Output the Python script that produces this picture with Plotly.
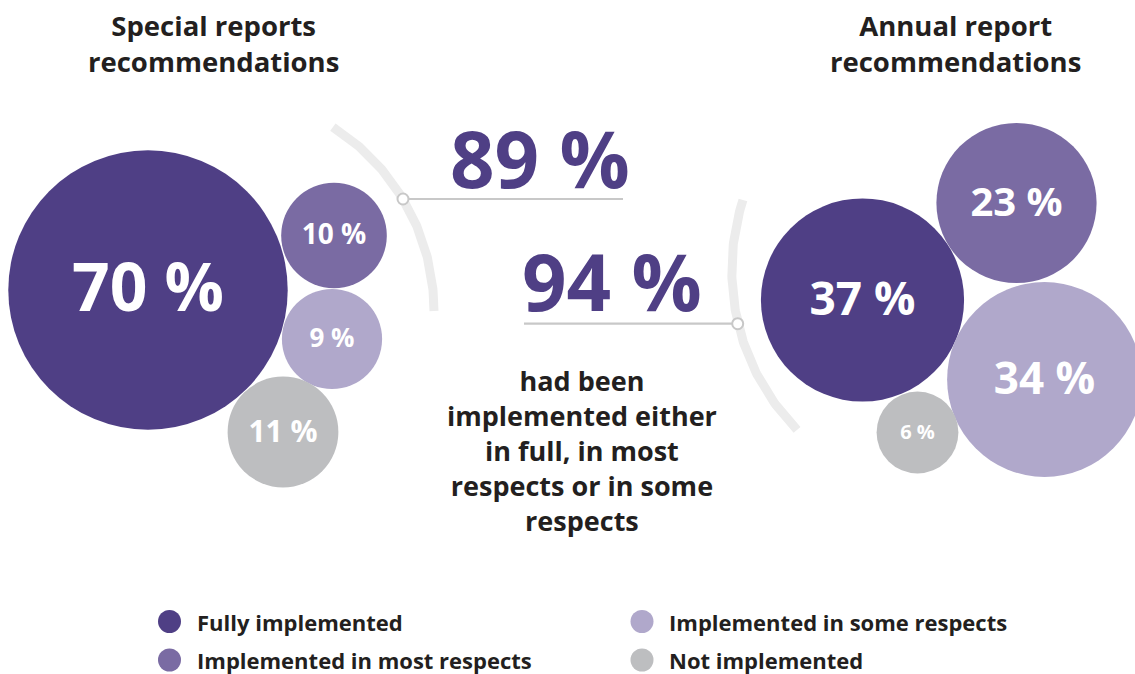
import numpy as np
import plotly.graph_objects as go

# ---------------- data ----------------
categories = ["Fully implemented", "Implemented in most respects",
              "Implemented in some respects", "Not implemented"]
special_values = [70, 10, 9, 11]
annual_values = [37, 23, 34, 6]
group_titles = ["Special reports<br>recommendations", "Annual report<br>recommendations"]
implemented_special = sum(special_values[:3])   # 89
implemented_annual = sum(annual_values[:3])     # 94
caption = "had been<br>implemented either<br>in full, in most<br>respects or in some<br>respects"

# ---------------- styles / layout ----------------
colors = ["#4f3f85", "#7a6ba3", "#b0a8cb", "#bdbec0"]
FONT = "Open Sans"
DARK = "#231f20"
W, H = 1135, 674
px_per_sqrt_pct = 16.7
sizeref = 1.0 / (2 * px_per_sqrt_pct ** 2)

special_pos = [(148, 290), (334, 235.5), (332, 339), (283, 432)]
annual_pos = [(862.5, 300), (1016.5, 203), (1044.5, 379.5), (917.5, 432.5)]
special_font = [66, 28, 26, 30]
annual_font = [46, 40, 44, 20]
text_drop = 0.07  # vertical optical correction for labels, in em

fig = go.Figure()

# decorative arcs
def arc(cx, cy, r, a0, a1):
    t = np.radians(np.linspace(a0, a1, 120))
    return cx + r * np.cos(t), cy + r * np.sin(t)

for (cx, cy, r, a0, a1) in [(216.2, 311, 217.8, -57.6, 0), (959.4, 270.4, 227.6, 135.5, 198)]:
    ax, ay = arc(cx, cy, r, a0, a1)
    fig.add_trace(go.Scatter(x=ax, y=ay, mode="lines", hoverinfo="skip",
                             line=dict(color="#ececec", width=9), showlegend=False))

# connector lines
for (x0, x1, y) in [(403, 623, 199), (524, 737.7, 323.7)]:
    fig.add_trace(go.Scatter(x=[x0, x1], y=[y, y], mode="lines", hoverinfo="skip",
                             line=dict(color="#c8c8c8", width=2.2), showlegend=False))
fig.add_trace(go.Scatter(x=[403, 737.7], y=[199, 323.7], mode="markers", hoverinfo="skip",
                         marker=dict(size=11, color="white", line=dict(color="#c8c8c8", width=2)),
                         showlegend=False))

# bubbles + labels
for pos, vals, fs in [(special_pos, special_values, special_font),
                      (annual_pos, annual_values, annual_font)]:
    fig.add_trace(go.Scatter(
        x=[p[0] for p in pos], y=[p[1] for p in pos],
        mode="markers",
        text=[f"{v} %" for v in vals],
        marker=dict(size=vals, sizemode="area", sizeref=sizeref, color=colors,
                    opacity=1, line=dict(width=0)),
        customdata=categories,
        hovertemplate="%{customdata}: %{text}<extra></extra>",
        showlegend=False))
    fig.add_trace(go.Scatter(
        x=[p[0] for p in pos], y=[p[1] + text_drop * f for p, f in zip(pos, fs)],
        mode="text",
        text=[f"{v} %" for v in vals],
        textposition="middle center",
        textfont=dict(family=FONT, size=fs, color="white", weight="bold"),
        hoverinfo="skip", showlegend=False))

# manual legend
leg_x = [169.5, 169.5, 642, 642]
leg_y = [621.5, 660, 621.5, 660]
fig.add_trace(go.Scatter(
    x=leg_x, y=leg_y, mode="markers",
    marker=dict(size=23, color=colors, line=dict(width=0)),
    hoverinfo="skip", showlegend=False))

annotations = []
for lx, ly, lab in zip(leg_x, leg_y, categories):
    annotations.append(dict(x=lx + 25, y=ly, text=lab, xanchor="left", yanchor="middle",
                            showarrow=False,
                            font=dict(family=FONT, size=22, color=DARK, weight="bold")))

# titles
for tx, t in zip([213, 955], group_titles):
    annotations.append(dict(x=tx, y=43, text=t, xanchor="center", yanchor="middle",
                            showarrow=False,
                            font=dict(family=FONT, size=27.5, color=DARK, weight="bold")))

# headline numbers
for (tx, ty), v in zip([(540, 158), (611.5, 281)], [implemented_special, implemented_annual]):
    annotations.append(dict(x=tx, y=ty, text=f"{v} %", xanchor="center", yanchor="middle",
                            showarrow=False,
                            font=dict(family=FONT, size=78, color=colors[0], weight="bold")))

annotations.append(dict(x=582, y=450, text=caption, xanchor="center", yanchor="middle",
                        showarrow=False, align="center",
                        font=dict(family=FONT, size=27, color=DARK, weight="bold")))

fig.update_layout(
    width=W, height=H, autosize=False,
    margin=dict(l=0, r=0, t=0, b=0),
    paper_bgcolor="white", plot_bgcolor="white",
    xaxis=dict(range=[0, W], visible=False, fixedrange=True),
    yaxis=dict(range=[H, 0], visible=False, fixedrange=True),
    annotations=annotations,
    showlegend=False,
)

fig.write_html("out.html", config={"displayModeBar": False},
               post_script="document.body.style.margin='0';document.body.style.overflow='hidden';")
